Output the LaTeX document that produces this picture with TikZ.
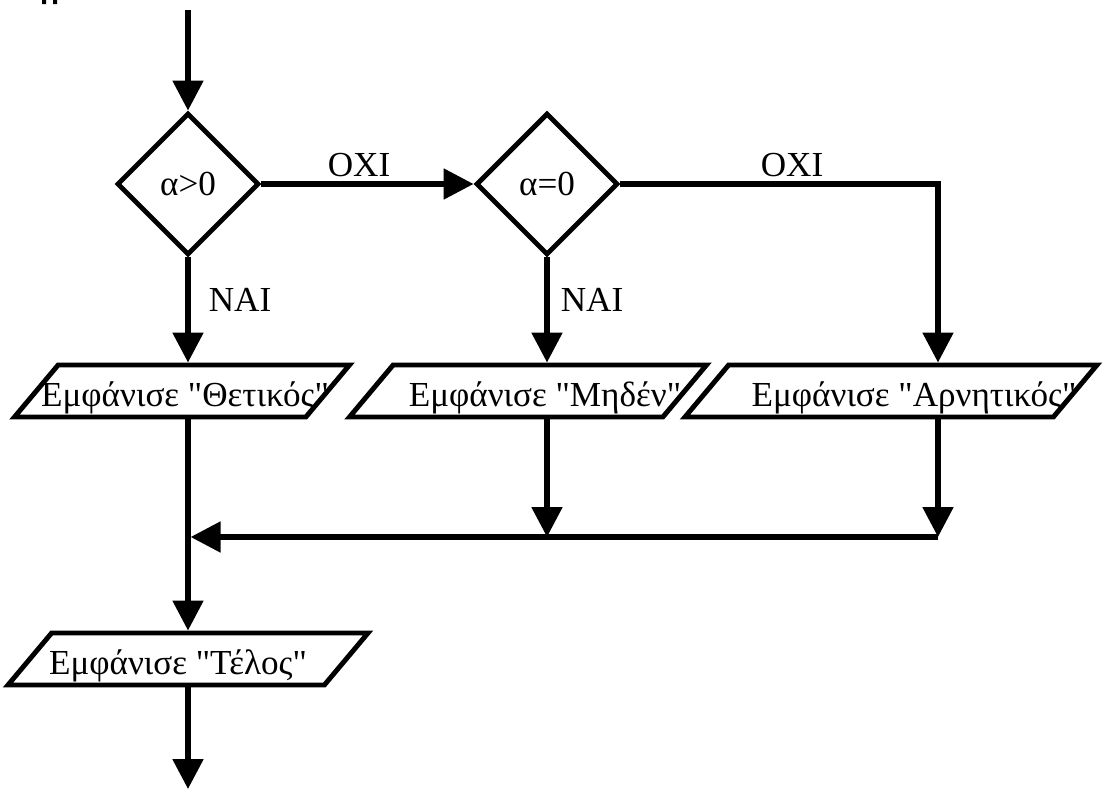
\documentclass[tikz,border=0pt]{standalone}
\usepackage{fontspec}
\setmainfont{Liberation Serif}[Ligatures=TeXOff]
\usetikzlibrary{shapes.geometric,arrows.meta}
\tikzset{
  flow/.style={line width=3pt,-{Triangle[length=17pt,width=17pt]}},
  decision/.style={diamond,draw,line width=2.8pt,aspect=1,inner sep=0pt,
    minimum width=28.4mm,minimum height=28.4mm},
  io/.style={trapezium,draw,line width=2.8pt,trapezium left angle=50,
    trapezium right angle=130,trapezium stretches body,inner sep=0pt},
  lbl/.style={inner sep=0pt}
}
% text of an output box, optional shift to the right
\newcommand{\msg}[2][0pt]{\rule[-2.2mm]{0pt}{10.4mm}%
  \makebox[0pt]{\hspace*{#1}Εμφάνισε "#2"\hspace*{-#1}}}
\begin{document}
\begin{tikzpicture}[x=0.2mm,y=-0.2mm,font=\fontsize{20}{23}\selectfont]
  \useasboundingbox (0,0) rectangle (1105,789);
  \fill (42,0) rectangle (46,4) (53,0) rectangle (57,4);
  % decisions
  \node[decision] (pos) at (188,184) {α>0};
  \node[decision] (zero) at (547,184) {α=0};
  % outputs
  \node[io,minimum width=67mm] (msgpos) at (182,391) {\msg[0.6mm]{Θετικός}};
  \node[io,minimum width=71.4mm] (msgzero) at (528,391) {\msg[3.4mm]{Μηδέν}};
  \node[io,minimum width=82.4mm] (msgneg) at (891,391) {\msg[4.6mm]{Αρνητικός}};
  \node[io,minimum width=72mm] (msgend) at (188,659) {\msg[-2mm]{Τέλος}};
  % labels
  \node[lbl] (no1) at (359,165) {ΟΧΙ};
  \node[lbl] (no2) at (792,165) {ΟΧΙ};
  \node[lbl] (yes1) at (240,300) {ΝΑΙ};
  \node[lbl] (yes2) at (592,300) {ΝΑΙ};
  \coordinate (start) at (188,10);
  \coordinate (negturn) at (938,184);
  \coordinate (joinzero) at (547,537);
  \coordinate (joinneg) at (938,537);
  \coordinate (merge) at (188,537);
  \coordinate (stop) at (188,789);
  % connectors
  \draw[flow] (start) -- (pos.north);
  \draw[flow] (pos.east) -- (zero.west);
  \draw[flow] (pos.south) -- (pos.south |- msgpos.north);
  \draw[flow] (zero.south) -- (zero.south |- msgzero.north);
  \draw[flow] (zero.east) -- (negturn) -- (negturn |- msgneg.north);
  \draw[flow] (joinzero |- msgzero.south) -- (joinzero);
  \draw[flow] (joinneg |- msgneg.south) -- (joinneg);
  \draw[flow,shorten >=1.5pt] (joinneg) -- (merge);
  \draw[flow] (pos |- msgpos.south) -- (msgend.north);
  \draw[flow] (msgend.south) -- (stop);
\end{tikzpicture}
\end{document}
